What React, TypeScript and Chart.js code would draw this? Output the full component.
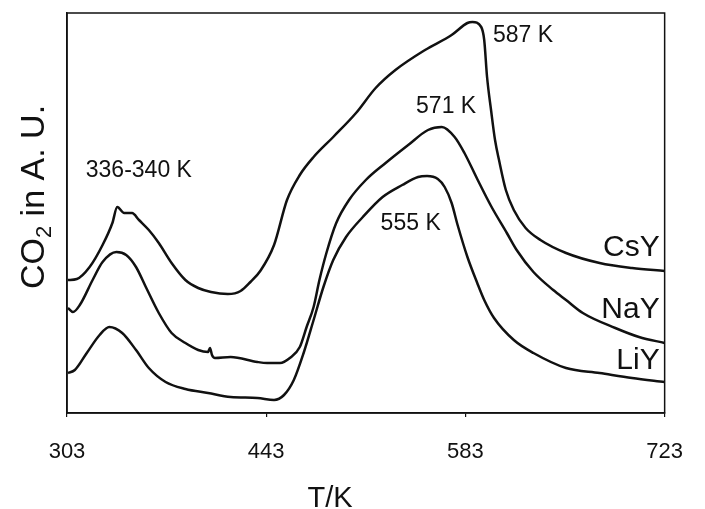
import React, { useEffect, useRef } from "react";
import { Chart, registerables } from "chart.js";

Chart.register(...registerables);

const X_TICKS = [303, 443, 583, 723];
const X_MIN = 303;
const X_MAX = 723;

const T_CSY = [303.7, 309.9, 318.9, 328.0, 334.9, 338.3, 343.2, 348.7, 353.6, 360.5, 367.5, 376.5, 386.2, 395.2, 404.2, 416.0, 425.0, 431.9, 438.8, 448.5, 457.6, 466.6, 476.3, 490.1, 506.1, 519.9, 533.8, 554.6, 573.3, 584.4, 587.9, 594.1, 596.2, 598.2, 601.0, 603.8, 606.6, 611.4, 617.0, 625.3, 635.7, 653.7, 677.3, 700.1, 723];
const V_CSY = [33.25, 33.5, 36.5, 42, 47.5, 51.5, 50, 50, 48.25, 45.75, 42.5, 37.5, 33.25, 31.25, 30.25, 29.75, 30.5, 32.75, 35.5, 42, 53.25, 59.5, 64, 69, 75, 81.25, 85.75, 90.75, 94.5, 97.5, 97.75, 96.5, 93.25, 84, 75.75, 68.25, 63.25, 55.75, 50.75, 46.25, 43.25, 40, 37.5, 36.25, 35.5];

const T_NAY = [303.7, 307.2, 312.0, 321.0, 328.0, 337.7, 344.6, 351.5, 358.4, 367.5, 376.5, 386.2, 395.2, 402.1, 403.5, 404.9, 407.0, 418.0, 436.8, 443.7, 452.7, 459.6, 466.6, 471.4, 476.3, 480.4, 485.3, 492.2, 501.2, 513.0, 526.9, 542.8, 556.7, 566.4, 575.4, 582.3, 591.3, 601.0, 612.1, 619.0, 630.8, 644.7, 653.7, 665.5, 688.3, 705.0, 723];
const V_NAY = [26.25, 25.25, 27, 33.25, 37.75, 40.25, 39.5, 36.5, 31.5, 25, 20, 17.5, 15.75, 15.25, 16.25, 14.5, 13.75, 14, 12.75, 12.5, 12.5, 13.75, 16.5, 21.5, 26.5, 33.25, 40, 47.5, 53.25, 58.25, 62.5, 67, 70.75, 71.5, 69, 65, 58.5, 51.75, 45, 40.75, 35.25, 30.75, 28.25, 25, 21.25, 19, 17.5];

const T_LIY = [303.7, 308.5, 316.9, 325.9, 332.8, 341.8, 351.5, 360.5, 372.3, 386.2, 402.1, 418.0, 436.8, 448.5, 455.5, 462.4, 469.3, 476.3, 483.2, 490.1, 499.1, 510.9, 524.8, 538.6, 549.7, 556.0, 563.6, 568.4, 573.3, 577.5, 584.4, 591.3, 596.2, 603.1, 617.0, 630.8, 653.7, 677.3, 700.1, 723];
const V_LIY = [10, 10.75, 15, 19.5, 21.5, 20, 15.75, 11.25, 7.75, 6, 5, 4, 3.75, 3.25, 4.5, 8.25, 15, 23.25, 31.5, 38.25, 44, 49, 54, 57, 59, 59.25, 58.5, 56.5, 52.5, 47, 39, 32.5, 28.25, 23.75, 18.25, 15, 11.25, 10, 8.75, 7.75];

const PEAK_LABELS = ["336-340 K", "587 K", "571 K", "555 K"];
const PEAK_LABEL_T = [316.2, 602.4, 548.3, 523.4];
const PEAK_LABEL_V = [59, 92.75, 75, 45.75];

const SERIES_NAMES = ["CsY", "NaY", "LiY"];
const SERIES_LABEL_T = [719.5, 719.5, 719.5];
const SERIES_LABEL_V = [39.25, 23.75, 11];

const FONT = "'Liberation Sans', Arial, Helvetica, sans-serif";
const INK = "#111";

const toPoints = (t: number[], v: number[]) => t.map((x, i) => ({ x, y: v[i] }));

const annotate = {
  id: "annotate",
  afterDraw(chart: any) {
    const { ctx, chartArea, scales } = chart;
    const xs = scales.x;
    const ys = scales.y;
    ctx.save();
    ctx.strokeStyle = INK;
    ctx.lineWidth = 1.5;
    ctx.strokeRect(chartArea.left, chartArea.top, chartArea.right - chartArea.left, chartArea.bottom - chartArea.top);

    ctx.fillStyle = INK;
    ctx.textBaseline = "alphabetic";
    ctx.font = `23px ${FONT}`;
    ctx.textAlign = "left";
    PEAK_LABELS.forEach((s, i) => {
      ctx.fillText(s, xs.getPixelForValue(PEAK_LABEL_T[i]), ys.getPixelForValue(PEAK_LABEL_V[i]));
    });
    ctx.font = `30px ${FONT}`;
    ctx.textAlign = "right";
    SERIES_NAMES.forEach((s, i) => {
      ctx.fillText(s, xs.getPixelForValue(SERIES_LABEL_T[i]), ys.getPixelForValue(SERIES_LABEL_V[i]));
    });

    ctx.font = `29px ${FONT}`;
    ctx.textAlign = "center";
    ctx.fillText("T/K", chartArea.left + 263, chartArea.bottom + 94);

    const big = `34px ${FONT}`;
    const small = `22px ${FONT}`;
    const parts = [
      { s: "CO", f: big, dy: 0 },
      { s: "2", f: small, dy: 7 },
      { s: " in A. U.", f: big, dy: 0 },
    ];
    let total = 0;
    parts.forEach((p) => {
      ctx.font = p.f;
      total += ctx.measureText(p.s).width;
    });
    ctx.translate(chartArea.left - 23, (chartArea.top + chartArea.bottom) / 2 - 16);
    ctx.rotate(-Math.PI / 2);
    ctx.textAlign = "left";
    let px = -total / 2;
    parts.forEach((p) => {
      ctx.font = p.f;
      ctx.fillText(p.s, px, p.dy);
      px += ctx.measureText(p.s).width;
    });
    ctx.restore();
  },
};

export default function App() {
  const ref = useRef<HTMLCanvasElement | null>(null);
  useEffect(() => {
    if (!ref.current) return;
    const line = (label: string, t: number[], v: number[]) => ({
      label,
      data: toPoints(t, v),
      borderColor: INK,
      borderWidth: 2.5,
      pointRadius: 0,
      fill: false,
      cubicInterpolationMode: "monotone" as const,
    });
    const chart = new Chart(ref.current, {
      type: "line",
      data: {
        datasets: [line("CsY", T_CSY, V_CSY), line("NaY", T_NAY, V_NAY), line("LiY", T_LIY, V_LIY)],
      },
      plugins: [annotate],
      options: {
        animation: false,
        responsive: false,
        events: [],
        layout: { padding: { top: 13, right: 32, left: 0, bottom: 0 } },
        plugins: { legend: { display: false }, tooltip: { enabled: false } },
        scales: {
          x: {
            type: "linear",
            min: X_MIN,
            max: X_MAX,
            afterBuildTicks: (s: any) => {
              s.ticks = X_TICKS.map((value) => ({ value }));
            },
            afterFit: (s: any) => {
              s.height = 96;
            },
            grid: { display: true, drawOnChartArea: false, drawTicks: true, tickLength: 4, color: INK, lineWidth: 1.2 },
            border: { display: true, color: INK, width: 1.5 },
            ticks: {
              color: INK,
              font: { family: FONT, size: 22 },
              padding: 22,
              maxRotation: 0,
              autoSkip: false,
            },
          },
          y: {
            type: "linear",
            min: 0,
            max: 100,
            afterFit: (s: any) => {
              s.width = 67;
            },
            grid: { display: false },
            border: { display: true, color: INK, width: 1.5 },
            ticks: { display: false },
          },
        },
      },
    });
    return () => chart.destroy();
  }, []);
  return (
    <div style={{ position: "absolute", left: 0, top: 0, width: 705, height: 509, background: "#fff" }}>
      <canvas ref={ref} width={705} height={509} />
    </div>
  );
}
